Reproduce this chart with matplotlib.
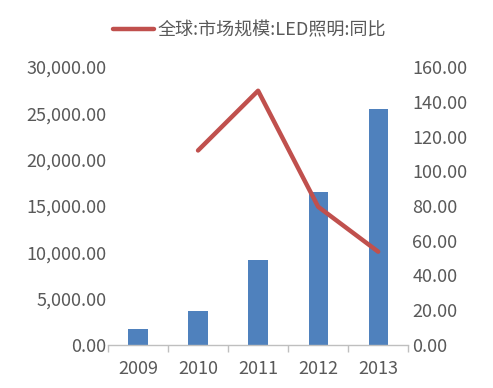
import matplotlib
matplotlib.use('Agg')
import matplotlib.pyplot as plt
from matplotlib.ticker import FuncFormatter, FixedLocator
import numpy as np

plt.rcParams['font.family'] = ['Noto Sans CJK SC', 'DejaVu Sans']

years = ['2009', '2010', '2011', '2012', '2013']
market_size = [1730, 3670, 9170, 16500, 25460]
yoy_years = ['2010', '2011', '2012', '2013']
yoy = [112.0, 146.4, 79.6, 53.7]
legend_label = '全球:市场规模:LED照明:同比'

text_color = '#595959'
bar_color = '#4F81BD'
line_color = '#C0504D'

fig = plt.figure(figsize=(4.93, 3.88), dpi=100)
ax = fig.add_axes([0.219, 0.111, 0.609, 0.716])
ax2 = ax.twinx()

x = np.arange(len(years))
ax.bar(x, market_size, width=0.32, color=bar_color, zorder=2)
xi = [years.index(y) for y in yoy_years]
line, = ax2.plot(xi, yoy, color=line_color, lw=3.2, solid_capstyle='round',
                 solid_joinstyle='round', zorder=3)

ax.set_xlim(-0.5, len(years) - 0.5)
ax.set_ylim(0, 30000)
ax2.set_ylim(0, 160)
ax.set_yticks(np.arange(0, 30001, 5000))
ax2.set_yticks(np.arange(0, 161, 20))
ax.yaxis.set_major_formatter(FuncFormatter(lambda v, p: f'{v:,.2f}'))
ax2.yaxis.set_major_formatter(FuncFormatter(lambda v, p: f'{v:.2f}'))

ax.set_xticks(x)
ax.set_xticklabels(years)
ax.xaxis.set_minor_locator(FixedLocator(np.arange(-0.5, len(years), 1)))
ax.tick_params(axis='x', which='major', length=0, pad=11, labelsize=13, labelcolor=text_color)
ax.tick_params(axis='x', which='minor', length=5, color='#BFBFBF', width=1)
ax.tick_params(axis='y', length=0, pad=1, labelsize=13, labelcolor=text_color)
ax2.tick_params(axis='y', length=0, pad=3, labelsize=13, labelcolor=text_color)

for a in (ax, ax2):
    for s in ['top', 'left', 'right', 'bottom']:
        a.spines[s].set_visible(False)
ax.spines['bottom'].set_visible(True)
ax.spines['bottom'].set_color('#BFBFBF')
ax.spines['bottom'].set_linewidth(1)

fig.legend([line], [legend_label], loc='center', bbox_to_anchor=(0.506, 0.923),
           frameon=False, fontsize=13, handlelength=2.3, handletextpad=0.2,
           labelcolor=text_color)

fig.savefig('out.png', dpi=100)
